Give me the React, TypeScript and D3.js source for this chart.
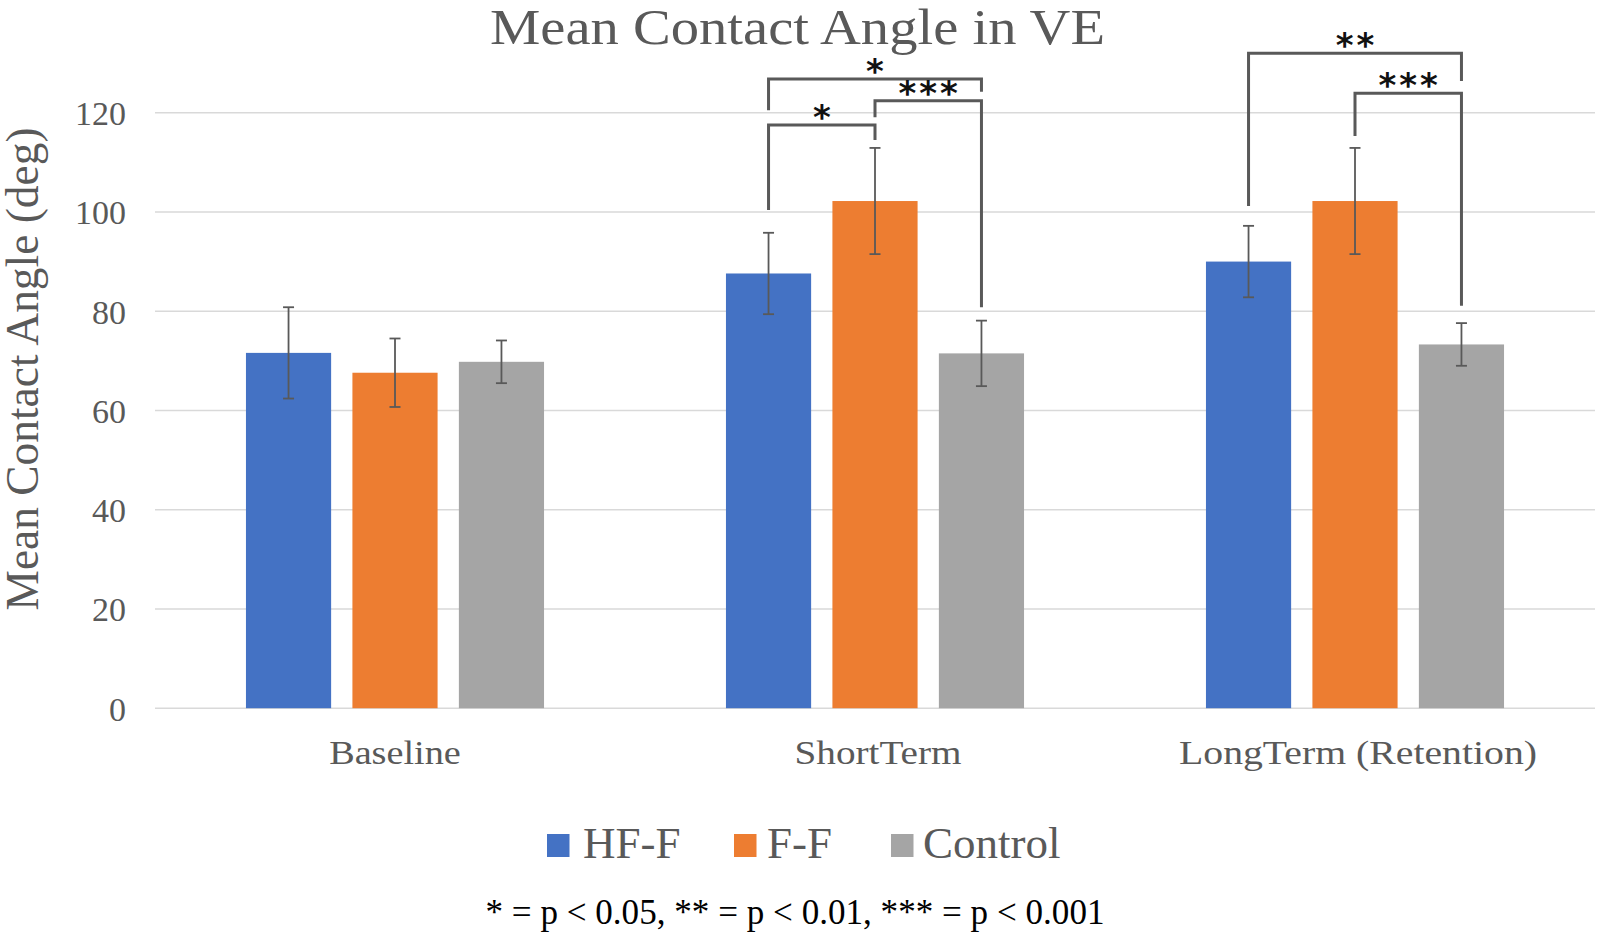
import React from "react";
import * as d3 from "d3";

const categories = ["Baseline", "ShortTerm", "LongTerm (Retention)"];
const seriesNames = ["HF-F", "F-F", "Control"];
const seriesColors = ["#4472C4", "#ED7D31", "#A5A5A5"];
const hffMeans = [71.6, 87.6, 90.0];
const ffMeans = [67.6, 102.2, 102.2];
const controlMeans = [69.8, 71.5, 73.3];
const hffErrors = [9.2, 8.2, 7.2];
const ffErrors = [6.9, 10.7, 10.7];
const controlErrors = [4.3, 6.6, 4.3];
const yTicks = [0, 20, 40, 60, 80, 100, 120];

// significance brackets: category index, from series, to series, top value, left leg end, right leg end, label
const bracketCats = [1, 1, 1, 2, 2];
const bracketFrom = [0, 1, 0, 0, 1];
const bracketTo = [2, 2, 1, 2, 2];
const bracketTop = [126.8, 122.4, 117.5, 132.0, 123.9];
const bracketLeftEnd = [120.5, 119.1, 100.4, 101.2, 115.3];
const bracketRightEnd = [124.2, 80.8, 114.5, 126.4, 81.1];
const bracketLabels = ["*", "***", "*", "**", "***"];

const titleText = "Mean Contact Angle in VE";
const yAxisTitle = "Mean Contact Angle (deg)";
const footnote = "* = p < 0.05, ** = p < 0.01, *** = p < 0.001";

const means = [hffMeans, ffMeans, controlMeans];
const errors = [hffErrors, ffErrors, controlErrors];

export default function App() {
  const W = 1600;
  const H = 940;
  const left = 155;
  const right = 1595;
  const y = d3.scaleLinear().domain([0, 120]).range([708.2, 112.7]);
  const x0 = d3
    .scaleBand<string>()
    .domain(categories)
    .range([left, right])
    .paddingInner(0.379)
    .paddingOuter(0.1895);
  const x1 = d3
    .scaleBand<string>()
    .domain(seriesNames)
    .range([0, x0.bandwidth()])
    .paddingInner(0.2)
    .paddingOuter(0);
  const bw = x1.bandwidth();
  const cx = (ci: number, si: number) =>
    (x0(categories[ci]) as number) + (x1(seriesNames[si]) as number) + bw / 2;

  const textColor = "#595959";
  const serif = "'Liberation Serif', 'Times New Roman', serif";

  const legendSquares = [547, 734, 891];
  const legendTexts = [583, 767, 923];

  return (
    <svg
      width={W}
      height={H}
      style={{ position: "absolute", left: 0, top: 0, background: "#fff" }}
      fontFamily={serif}
    >
      <rect x={0} y={0} width={W} height={H} fill="#fff" />
      {/* gridlines */}
      {yTicks.map((t) => (
        <line
          key={"g" + t}
          x1={left}
          x2={right}
          y1={y(t)}
          y2={y(t)}
          stroke="#D9D9D9"
          strokeWidth={1.5}
        />
      ))}
      {/* tick labels */}
      {yTicks.map((t) => (
        <text
          key={"t" + t}
          x={126}
          y={y(t) + 12.5}
          textAnchor="end"
          fontSize={34}
          fill={textColor}
        >
          {t}
        </text>
      ))}
      {/* bars */}
      {categories.map((c, ci) =>
        seriesNames.map((s, si) => (
          <rect
            key={c + s}
            x={(x0(c) as number) + (x1(s) as number)}
            y={y(means[si][ci])}
            width={bw}
            height={y(0) - y(means[si][ci])}
            fill={seriesColors[si]}
          />
        ))
      )}
      {/* error bars */}
      {categories.map((c, ci) =>
        seriesNames.map((s, si) => {
          const m = means[si][ci];
          const e = errors[si][ci];
          const xc = cx(ci, si);
          return (
            <g key={"e" + c + s} stroke="#595959" strokeWidth={1.8}>
              <line x1={xc} x2={xc} y1={y(m + e)} y2={y(m - e)} />
              <line x1={xc - 5.5} x2={xc + 5.5} y1={y(m + e)} y2={y(m + e)} />
              <line x1={xc - 5.5} x2={xc + 5.5} y1={y(m - e)} y2={y(m - e)} />
            </g>
          );
        })
      )}
      {/* brackets */}
      {bracketCats.map((ci, i) => {
        const xa = cx(ci, bracketFrom[i]);
        const xb = cx(ci, bracketTo[i]);
        const yt = y(bracketTop[i]);
        const p = d3.path();
        p.moveTo(xa, y(bracketLeftEnd[i]));
        p.lineTo(xa, yt);
        p.lineTo(xb, yt);
        p.lineTo(xb, y(bracketRightEnd[i]));
        return (
          <g key={"b" + i}>
            <path
              d={p.toString()}
              fill="none"
              stroke="#595959"
              strokeWidth={3}
            />
            <text
              x={(xa + xb) / 2 + 1.5}
              y={yt + 4}
              textAnchor="middle"
              fontFamily="'DejaVu Sans', sans-serif"
              fontWeight="bold"
              fontSize={34}
              letterSpacing={3}
              fill="#111"
            >
              {bracketLabels[i]}
            </text>
          </g>
        );
      })}
      {/* category labels */}
      {categories.map((c, ci) => {
        const widths = [131.7, 167, 358];
        return (
          <text
            key={"c" + c}
            x={(x0(c) as number) + x0.bandwidth() / 2 + (ci === 0 ? 0 : 3)}
            y={764}
            textAnchor="middle"
            fontSize={33}
            fill={textColor}
            textLength={widths[ci]}
            lengthAdjust="spacingAndGlyphs"
          >
            {c}
          </text>
        );
      })}
      {/* title */}
      <text
        x={797.5}
        y={44}
        textAnchor="middle"
        fontSize={50}
        fill={textColor}
        textLength={615}
        lengthAdjust="spacingAndGlyphs"
      >
        {titleText}
      </text>
      {/* y axis title */}
      <text
        transform="translate(38,369) scale(1.04,1) rotate(-90)"
        textAnchor="middle"
        fontSize={44}
        fill={textColor}
        textLength={483}
        lengthAdjust="spacingAndGlyphs"
      >
        {yAxisTitle}
      </text>
      {/* legend */}
      {seriesNames.map((s, si) => (
        <g key={"l" + s}>
          <rect
            x={legendSquares[si]}
            y={834}
            width={22.5}
            height={23}
            fill={seriesColors[si]}
          />
          <text
            x={legendTexts[si]}
            y={858}
            fontSize={45}
            fill={textColor}
          >
            {s}
          </text>
        </g>
      ))}
      {/* footnote */}
      <text
        x={795}
        y={924}
        textAnchor="middle"
        fontSize={36}
        fill="#000"
        textLength={619}
        lengthAdjust="spacingAndGlyphs"
      >
        {footnote}
      </text>
    </svg>
  );
}
